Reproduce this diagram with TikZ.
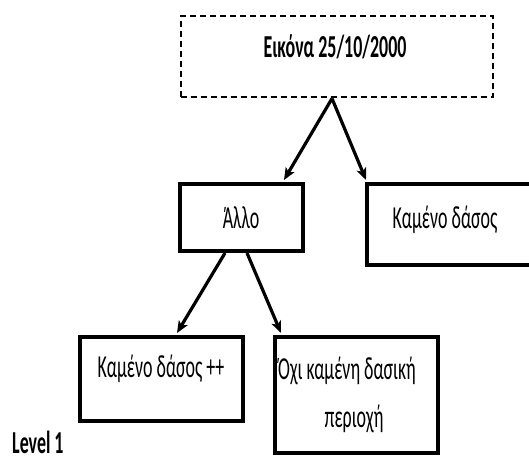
\documentclass[tikz,border=0pt]{standalone}
\usepackage{fontspec}
\setmainfont{Carlito}[FakeStretch=0.56]
\usetikzlibrary{arrows.meta}
\tikzset{
  basebox/.style={draw=black, line width=4pt, rectangle, inner sep=0pt},
  rootbox/.style={draw=black, line width=2pt, dash pattern=on 6pt off 4pt, rectangle, inner sep=0pt},
  lbl/.style={font=\fontsize{32}{36}\selectfont, inner sep=0pt, anchor=base},
  link/.style={line width=3.2pt, -{Stealth[length=12pt,width=10pt,inset=3pt]}},
}
\begin{document}
\begin{tikzpicture}[x=1pt,y=-1pt]
  \clip (0,0) rectangle (529,462);
  \useasboundingbox (0,0) rectangle (529,462);

  % boxes
  \node[rootbox, minimum width=312pt, minimum height=81pt] (root) at (336.5,57) {};
  \node[basebox, minimum width=123pt, minimum height=67pt] (allo) at (241.5,217.5) {};
  \node[basebox, minimum width=213pt, minimum height=81pt] (burnt) at (473.5,224.5) {};
  \node[basebox, minimum width=163pt, minimum height=84pt] (burntpp) at (161.5,379) {};
  \node[basebox, minimum width=163pt, minimum height=116pt] (notburnt) at (356.5,395) {};

  % texts
  \node[lbl, font=\fontsize{32}{36}\selectfont\bfseries] (rootlbl) at (335,58) {Εικόνα 25/10/2000};
  \node[lbl] (allolbl) at (241,228) {Άλλο};
  \node[lbl] (burntlbl) at (445,228) {Καμένο δάσος};
  \node[lbl] (burntpplbl) at (161,377) {Καμένο δάσος ++};
  \node[lbl] (notburntlbl1) at (347,379) {Όχι καμένη δασική};
  \node[lbl] (notburntlbl2) at (354,427) {περιοχή};
  \node[lbl, anchor=base west, font=\fontsize{32}{36}\selectfont\bfseries] (level) at (12,453) {Level 1};

  % connectors
  \draw[link] ([xshift=-4.5pt]root.south) -- ([xshift=-21pt,yshift=2pt]allo.north east);
  \draw[link] ([xshift=-4.5pt]root.south) -- ([xshift=1pt,yshift=2pt]burnt.north west);
  \draw[link] ([xshift=-16.5pt]allo.south) -- ([xshift=15.5pt,yshift=2pt]burntpp.north);
  \draw[link] ([xshift=5.5pt]allo.south) -- ([xshift=8pt,yshift=2pt]notburnt.north west);
\end{tikzpicture}
\end{document}
